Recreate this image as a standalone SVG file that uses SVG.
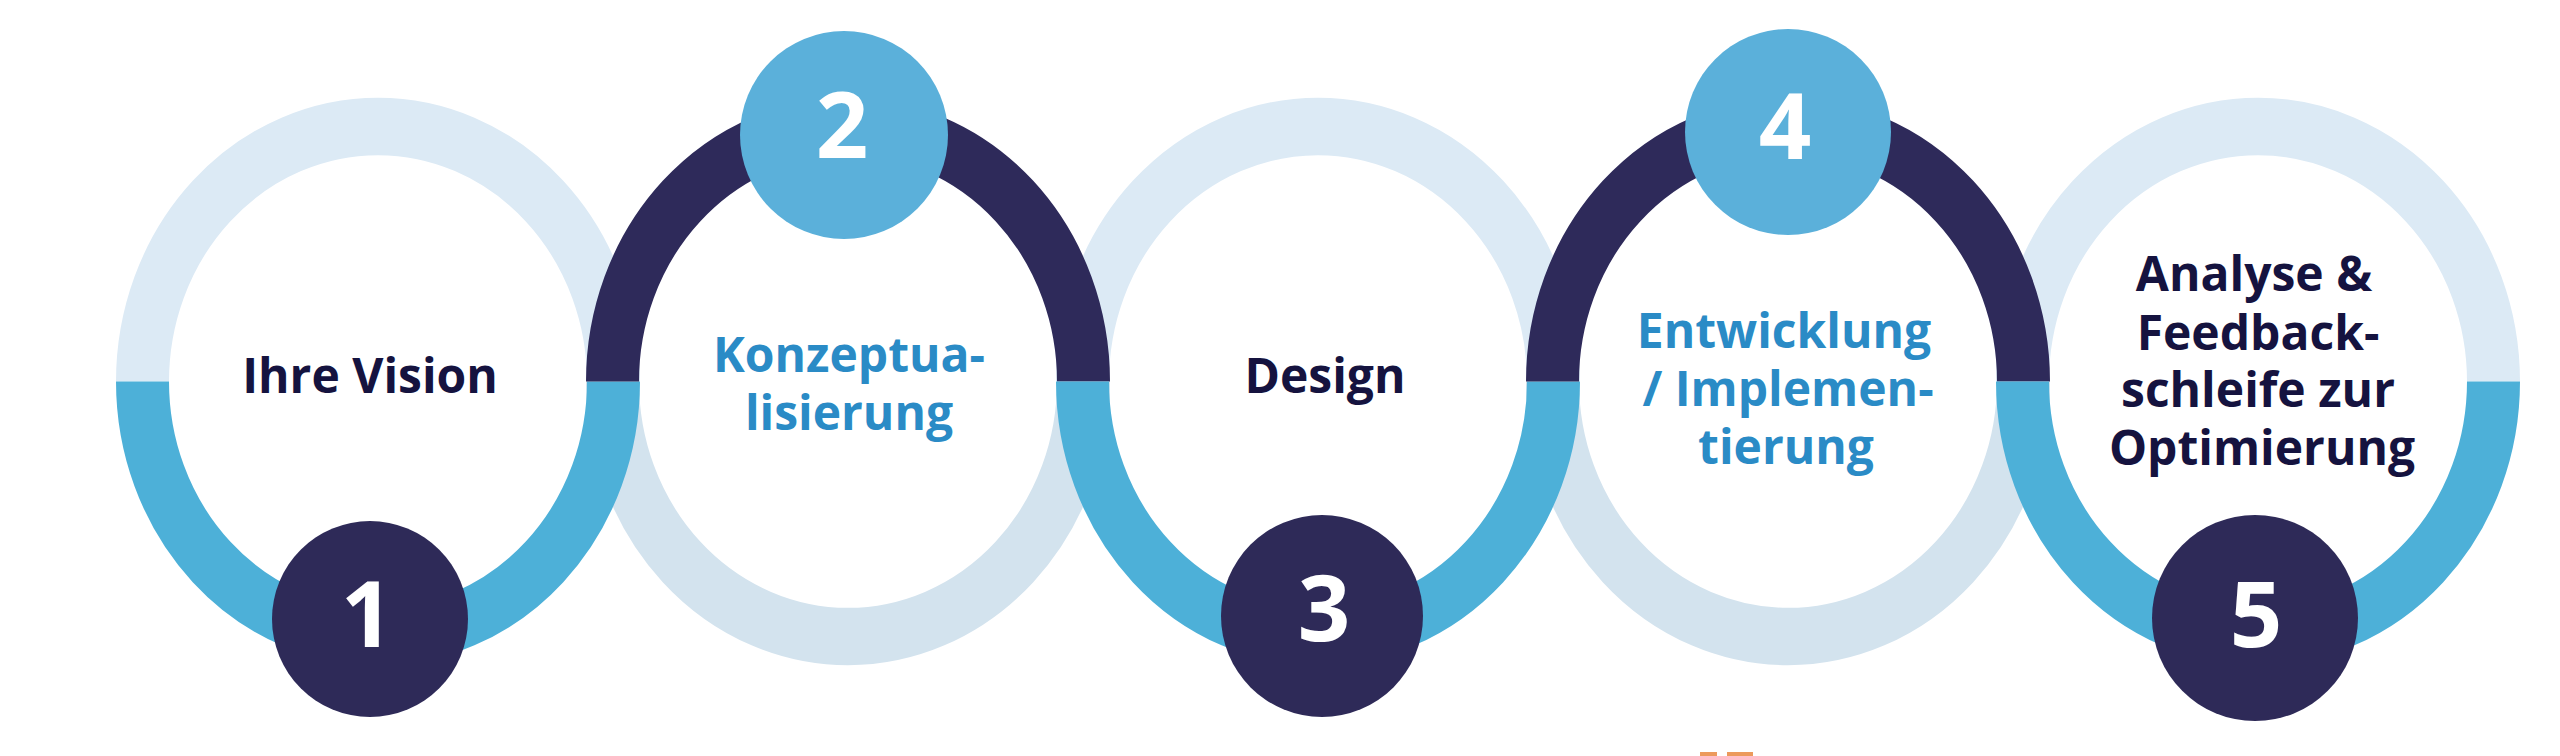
<svg xmlns="http://www.w3.org/2000/svg" width="2560" height="756" viewBox="0 0 2560 756">
  <style>
    .half{fill:none;stroke-width:53;stroke-linecap:butt}
    .lt{stroke:#dceaf5}
    .lb{stroke:#d3e3ee}
    .bl{stroke:#4db0d8}
    .dk{stroke:#2e2a5a}
    .badge-top{fill:#5bb0da}
    .badge-bot{fill:#2e2a58}
    .num{font-family:"Open Sans","DejaVu Sans",sans-serif;font-weight:700;font-size:92px;fill:#ffffff;text-anchor:middle}
    .lbl{font-family:"Open Sans","DejaVu Sans",sans-serif;font-weight:700;font-size:48px;text-anchor:middle}
    .dark{fill:#15133f}
    .blue{fill:#2a8bc6}
  </style>
  <defs>
    <path id="top" d="M-235.5,0 A235.5,235.5 0 0 1 235.5,0"/>
    <path id="bot" d="M235.5,0 A235.5,235.5 0 0 1 -235.5,0"/>
  </defs>
  <rect width="2560" height="756" fill="#ffffff"/>
  <g id="connectors">
    <!-- light halves first -->
    <use href="#top" class="half lt" transform="translate(378,381.5) scale(1,1.083)"/>
    <use href="#bot" class="half lb" transform="translate(848,381.5) scale(1,1.083)"/>
    <use href="#top" class="half lt" transform="translate(1318,381.5) scale(1,1.083)"/>
    <use href="#bot" class="half lb" transform="translate(1788,381.5) scale(1,1.083)"/>
    <use href="#top" class="half lt" transform="translate(2258,381.5) scale(1,1.083)"/>
    <!-- coloured halves on top -->
    <use href="#bot" class="half bl" transform="translate(378,381.5) scale(1,1.083)"/>
    <use href="#top" class="half dk" transform="translate(848,381.5) scale(1,1.083)"/>
    <use href="#bot" class="half bl" transform="translate(1318,381.5) scale(1,1.083)"/>
    <use href="#top" class="half dk" transform="translate(1788,381.5) scale(1,1.083)"/>
    <use href="#bot" class="half bl" transform="translate(2258,381.5) scale(1,1.083)"/>
  </g>
  <g id="node-1">
    <circle class="badge-bot" cx="370" cy="619" r="98"/>
    <text class="num" x="367" y="647">1</text>
    <text class="lbl dark" x="370" y="393">Ihre Vision</text>
  </g>
  <g id="node-2">
    <circle class="badge-top" cx="844" cy="135" r="104"/>
    <text class="num" x="842" y="158">2</text>
    <text class="lbl blue" x="849" y="372">Konzeptua-</text>
    <text class="lbl blue" x="849" y="430">lisierung</text>
  </g>
  <g id="node-3">
    <circle class="badge-bot" cx="1322" cy="616" r="101"/>
    <text class="num" x="1324" y="641">3</text>
    <text class="lbl dark" x="1325" y="393">Design</text>
  </g>
  <g id="node-4">
    <circle class="badge-top" cx="1788" cy="132" r="103"/>
    <text class="num" x="1785" y="159">4</text>
    <text class="lbl blue" x="1784" y="348">Entwicklung</text>
    <text class="lbl blue" x="1788" y="406">/ Implemen-</text>
    <text class="lbl blue" x="1786" y="464">tierung</text>
  </g>
  <g id="node-5">
    <circle class="badge-bot" cx="2255" cy="618" r="103"/>
    <text class="num" x="2256" y="647">5</text>
    <text class="lbl dark" x="2254" y="291">Analyse &amp;</text>
    <text class="lbl dark" x="2258" y="350">Feedback-</text>
    <text class="lbl dark" x="2258" y="407">schleife zur</text>
    <text class="lbl dark" x="2262" y="465">Optimierung</text>
  </g>
  <g id="bottom-fragment">
    <rect x="1700" y="752" width="17" height="4" fill="#ec9a5c"/>
    <rect x="1727" y="752" width="26" height="4" fill="#ec9a5c"/>
  </g>
</svg>
